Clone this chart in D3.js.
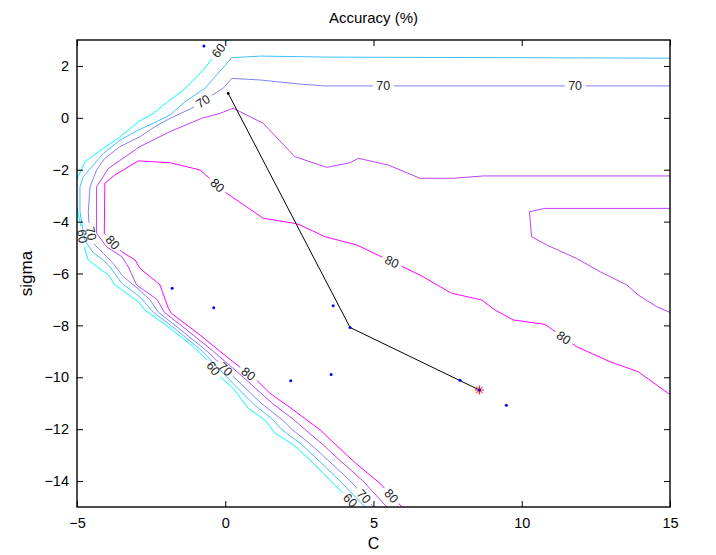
<!DOCTYPE html>
<html><head><meta charset="utf-8">
<script src="https://cdn.jsdelivr.net/npm/d3@7"></script>
<style>
body{margin:0;background:#fff}
text{font-family:"Liberation Sans",Arial,Helvetica,sans-serif}
</style>
</head><body>
<svg id="chart" width="716" height="555"></svg>
<script>
// ---------- data ----------
const title = "Accuracy (%)";
const xLabel = "C";
const yLabel = "sigma";
const xTicks = [-5, 0, 5, 10, 15];
const yTicks = [-14, -12, -10, -8, -6, -4, -2, 0, 2];
const levels = [60, 65, 70, 75, 80];

// contour polylines [C, sigma] per level
const contour60 = [
  [[0.09,3.0],[-0.15,2.72],[-0.74,1.84],[-1.41,1.07],[-1.86,0.69],[-2.43,0.17],[-2.93,-0.15],[-3.61,-0.79],[-4.11,-1.17],[-4.73,-1.69],[-4.96,-2.27],[-5,-2.4]],
  [[-5,-3.45],[-4.9,-4.0],[-4.75,-5.0],[-4.62,-5.48],[-3.94,-6.06],[-3.72,-6.44],[-2.93,-7.09],[-2.71,-7.41],[-1.86,-8.11],[-1.08,-8.82],[-0.6,-9.35],[-0.18,-9.98],[0.27,-10.43],[0.78,-11.2],[1.34,-11.65],[1.68,-12.16],[2.3,-12.6],[2.86,-13.19],[3.31,-13.7],[3.7,-14.16],[4.45,-15]]
];
const contour65 = [
  [[15,2.3],[3.5,2.34],[1.2,2.38],[0.22,2.32],[-0.68,1.14],[-1.36,0.62],[-1.86,0.11],[-2.43,-0.21],[-2.93,-0.47],[-3.55,-0.86],[-4.11,-1.37],[-4.45,-1.82],[-4.79,-2.27],[-4.9,-2.66],[-4.9,-3.6],[-4.84,-4.07],[-4.72,-4.75],[-4.45,-5.2],[-4.11,-5.48],[-3.89,-5.74],[-3.49,-6.38],[-2.88,-6.9],[-2.42,-7.5],[-1.84,-8.0],[-1.62,-8.2],[-0.77,-9.0],[0.06,-10.0],[0.92,-11.0],[1.62,-11.65],[1.89,-12.0],[2.59,-12.6],[2.96,-13.0],[3.87,-14.0],[4.72,-15]]
];
const contour70 = [
  [[15,1.23],[3.36,1.23],[2.52,1.3],[1.17,1.46],[0.22,1.52],[-0.07,1.14],[-1.13,0.37],[-1.86,-0.02],[-2.37,-0.34],[-2.88,-0.73],[-3.55,-1.11],[-4.06,-1.56],[-4.34,-2.01],[-4.56,-2.66],[-4.62,-3.62],[-4.6,-4.0],[-4.45,-4.84],[-4.11,-5.22],[-3.78,-5.61],[-3.44,-6.12],[-2.98,-6.55],[-2.55,-7.0],[-2.25,-7.5],[-1.69,-8.0],[-0.61,-9.0],[0.3,-10.0],[1.21,-11.0],[1.93,-11.65],[2.24,-12.0],[2.9,-12.6],[3.28,-13.0],[4.22,-14.0],[5.0,-15]]
];
const contour75 = [
  [[15,-2.24],[8.7,-2.24],[7.69,-2.33],[6.57,-2.33],[5.5,-1.82],[4.49,-1.56],[4.21,-1.73],[3.42,-1.91],[2.52,-1.56],[2.35,-1.5],[1.28,-0.21],[0.27,0.37],[-0.18,0.17],[-0.8,-0.02],[-1.86,-0.53],[-2.88,-1.11],[-3.94,-1.95],[-4.34,-2.66],[-4.34,-4.45],[-4.0,-4.97],[-3.49,-5.35],[-3.27,-5.74],[-2.99,-6.44],[-2.3,-7.0],[-2.05,-7.5],[-1.49,-8.0],[-0.4,-9.0],[0.61,-10.0],[1.58,-11.0],[2.33,-11.65],[2.68,-12.0],[3.3,-12.6],[3.67,-13.0],[4.65,-14.0],[5.45,-15]],
  [[15,-3.49],[10.78,-3.49],[10.26,-3.62],[10.33,-4.58],[10.84,-4.9],[11.85,-5.42],[12.64,-5.93],[13.54,-6.44],[13.93,-6.83],[14.55,-7.28],[15,-7.5]]
];
const contour80 = [
  [[15,-10.65],[14.94,-10.62],[13.93,-9.79],[12.98,-9.4],[11.85,-8.82],[10.78,-7.96],[9.71,-7.79],[9.1,-7.41],[8.65,-7.02],[7.63,-6.76],[6.57,-6.06],[4.43,-4.9],[3.36,-4.58],[2.52,-4.13],[2.35,-4.07],[1.28,-3.87],[0.72,-3.43],[0.05,-2.91],[-0.85,-2.01],[-1.86,-1.73],[-2.93,-1.66],[-3.72,-2.2],[-4.06,-2.52],[-4.08,-4.45],[-3.49,-5.16],[-3.04,-5.48],[-2.88,-5.8],[-2.2,-6.44],[-1.92,-7.34],[-1.81,-7.54],[-0.85,-8.37],[0.05,-9.21],[1.06,-10.11],[1.51,-10.62],[2.3,-11.26],[3.2,-12.03],[4.1,-13.0],[4.54,-13.45],[5.22,-14.09],[5.96,-15]]
];
const contourLines = [contour60, contour65, contour70, contour75, contour80];

// contour labels: [level, C, sigma]
const contourLabels = [
  [60,-0.18,2.55],[60,-4.88,-4.58],[60,-0.43,-9.68],[60,4.27,-14.68],
  [70,-0.74,0.62],[70,5.33,1.23],[70,11.8,1.23],[70,-4.5,-4.45],[70,0.05,-9.63],[70,4.73,-14.54],
  [80,-0.35,-2.72],[80,5.61,-5.58],[80,11.4,-8.5],[80,-3.83,-4.84],[80,0.75,-9.92],[80,5.58,-14.6]
];

// search path and sampled points
const searchPath = [[0.1,0.94],[4.21,-8.08],[8.57,-10.49]];
const samplePoints = [[-0.72,2.77],[-1.79,-6.57],[-0.39,-7.32],[2.21,-10.13],[3.64,-7.24],[4.21,-8.08],[3.57,-9.89],[7.92,-10.11],[8.57,-10.49],[9.48,-11.08]];
const bestPoint = [8.57,-10.49];

// ---------- chart ----------
const svg = d3.select("#chart");
const L = 77, R = 670, T = 40, B = 507;
const x = d3.scaleLinear().domain([-5,15]).range([L,R]);
const y = d3.scaleLinear().domain([-15,3]).range([B,T]);
const color = d3.scaleLinear().domain([60,80]).range(["#00ffff","#ff00ff"]);
const line = d3.line().x(d=>x(d[0])).y(d=>y(d[1]));

svg.append("rect").attr("width",716).attr("height",555).attr("fill","#fff");

svg.append("defs").append("clipPath").attr("id","plotclip")
  .append("rect").attr("x",L).attr("y",T).attr("width",R-L).attr("height",B-T);

// label geometry
function nearestOnLines(segs, px, py){
  let best=null;
  segs.forEach(seg=>{
    for(let i=0;i<seg.length-1;i++){
      const ax=x(seg[i][0]), ay=y(seg[i][1]), bx=x(seg[i+1][0]), by=y(seg[i+1][1]);
      const dx=bx-ax, dy=by-ay, l2=dx*dx+dy*dy;
      let t = l2? ((px-ax)*dx+(py-ay)*dy)/l2 : 0;
      t=Math.max(0,Math.min(1,t));
      const qx=ax+t*dx, qy=ay+t*dy, d=(qx-px)**2+(qy-py)**2;
      if(!best||d<best.d){
        let ang=Math.atan2(dy,dx)*180/Math.PI;
        if(ang>90) ang-=180; if(ang<=-90) ang+=180;
        best={d,qx,qy,ang};
      }
    }
  });
  return best;
}

const labelFont = 12.5;
const labelInfo = contourLabels.map(([lv,c,s])=>{
  const segs = contourLines[levels.indexOf(lv)];
  const n = nearestOnLines(segs, x(c), y(s));
  return {lv, px:n.qx, py:n.qy, ang:n.ang};
});

const defs = svg.select("defs");
levels.forEach((lv,i)=>{
  const m = defs.append("mask").attr("id","mask"+lv).attr("maskUnits","userSpaceOnUse")
    .attr("x",0).attr("y",0).attr("width",716).attr("height",555);
  m.append("rect").attr("width",716).attr("height",555).attr("fill","#fff");
  labelInfo.filter(d=>d.lv===lv).forEach(d=>{
    m.append("rect").attr("x",-10.5).attr("y",-5).attr("width",21).attr("height",10)
      .attr("fill","#000")
      .attr("transform",`translate(${d.px},${d.py}) rotate(${d.ang})`);
  });
});

const plot = svg.append("g").attr("clip-path","url(#plotclip)");
levels.forEach((lv,i)=>{
  const g = plot.append("g").attr("mask","url(#mask"+lv+")");
  g.selectAll("path").data(contourLines[i]).join("path")
    .attr("d",line).attr("fill","none").attr("stroke",color(lv)).attr("stroke-width",1);
});

// labels
svg.append("g").selectAll("text").data(labelInfo).join("text")
  .attr("transform",d=>`translate(${d.px},${d.py}) rotate(${d.ang})`)
  .attr("text-anchor","middle").attr("dy","0.36em")
  .attr("font-size",labelFont).attr("fill","#222")
  .text(d=>d.lv);

// search path
plot.append("path").datum(searchPath).attr("d",line).attr("fill","none")
  .attr("stroke","#000").attr("stroke-width",1);
plot.append("circle").attr("cx",x(searchPath[0][0])).attr("cy",y(searchPath[0][1])).attr("r",1.4).attr("fill","#000");

// best point asterisk
const ast = plot.append("g").attr("transform",`translate(${x(bestPoint[0])},${y(bestPoint[1])})`)
  .attr("stroke","#ff0000").attr("stroke-width",1);
[[0,-4.5,0,4.5],[-4.5,0,4.5,0],[-3.3,-3.3,3.3,3.3],[-3.3,3.3,3.3,-3.3]].forEach(l=>{
  ast.append("line").attr("x1",l[0]).attr("y1",l[1]).attr("x2",l[2]).attr("y2",l[3]);
});

plot.selectAll("circle.pt").data(samplePoints).join("circle").attr("class","pt")
  .attr("cx",d=>x(d[0])).attr("cy",d=>y(d[1])).attr("r",1.5).attr("fill","#0000ff");

// axes
const tickFont = 14.5;
function styleAxis(g){
  g.select(".domain").remove();
  g.selectAll(".tick line").attr("stroke","#000").attr("stroke-width",1);
  g.selectAll(".tick text").attr("font-size",tickFont).attr("fill","#000")
   .attr("font-family",'"Liberation Sans",Arial,sans-serif');
}
svg.append("g").attr("transform",`translate(0,${B})`)
  .call(d3.axisBottom(x).tickValues(xTicks).tickSize(-6).tickPadding(11).tickFormat(d=>d<0?"\u2212"+(-d):d))
  .call(styleAxis);
svg.append("g").attr("transform",`translate(0,${T})`)
  .call(d3.axisTop(x).tickValues(xTicks).tickSize(-6).tickFormat(""))
  .call(styleAxis);
svg.append("g").attr("transform",`translate(${L},0)`)
  .call(d3.axisLeft(y).tickValues(yTicks).tickSize(-6).tickPadding(8).tickFormat(d=>d<0?"\u2212"+(-d):d))
  .call(styleAxis);
svg.append("g").attr("transform",`translate(${R},0)`)
  .call(d3.axisRight(y).tickValues(yTicks).tickSize(-6).tickFormat(""))
  .call(styleAxis);

svg.append("rect").attr("x",L).attr("y",T).attr("width",R-L).attr("height",B-T)
  .attr("fill","none").attr("stroke","#000").attr("stroke-width",1.4);

// titles
svg.append("text").attr("x",(L+R)/2).attr("y",23).attr("text-anchor","middle")
  .attr("font-size",15).attr("fill","#000").text(title);
svg.append("text").attr("x",(L+R)/2).attr("y",549).attr("text-anchor","middle")
  .attr("font-size",16).attr("fill","#000").text(xLabel);
svg.append("text").attr("transform",`translate(32,${(T+B)/2}) rotate(-90)`).attr("text-anchor","middle")
  .attr("font-size",17).attr("fill","#000").text(yLabel);
</script>
</body></html>
